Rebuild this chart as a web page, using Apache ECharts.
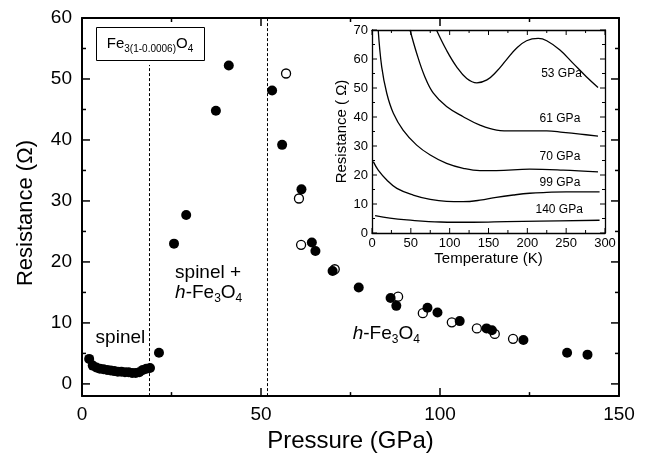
<!DOCTYPE html>
<html>
<head>
<meta charset="utf-8">
<script src="https://cdn.jsdelivr.net/npm/echarts@6/dist/echarts.min.js"></script>
<style>html,body{margin:0;padding:0;background:#fff}#c{width:648px;height:458px}</style>
</head>
<body>
<div id="c"></div>
<script>
// ---------- main plot data: Resistance (Ohm) vs Pressure (GPa) ----------
const spinelP = [2.0, 3.0, 4.0, 5.0, 6.0, 7.0, 8.0, 9.0, 10.0, 11.0, 12.0, 13.0, 14.0, 15.0, 16.0, 17.0, 18.0, 19.0];
const spinelR = [4.1, 3.0, 2.7, 2.5, 2.4, 2.3, 2.2, 2.1, 2.0, 2.0, 1.9, 1.9, 1.8, 1.8, 1.9, 2.3, 2.5, 2.6];
const filledP = [21.5, 25.7, 29.1, 37.4, 41.0, 53.1, 55.9, 61.3, 64.2, 65.2, 70.0, 77.3, 86.2, 87.8, 96.5, 99.3, 105.5, 113.0, 114.5, 123.3, 135.5, 141.2];
const filledR = [5.1, 23.0, 27.7, 44.8, 52.2, 48.1, 39.2, 31.9, 23.2, 21.8, 18.5, 15.8, 14.1, 12.8, 12.5, 11.7, 10.3, 9.1, 8.8, 7.2, 5.1, 4.8];
const openP = [57.0, 60.6, 61.2, 70.6, 88.3, 95.2, 103.3, 110.3, 115.3, 120.4];
const openR = [50.9, 30.4, 22.8, 18.8, 14.3, 11.6, 10.1, 9.1, 8.2, 7.4];
const phaseBoundaries = [18.8, 51.7];
const xTicksMain = [0, 50, 100, 150];
const xMinorMain = [25, 75, 125];
const yTicksMain = [0, 10, 20, 30, 40, 50, 60];
const yMinorMain = [5, 15, 25, 35, 45, 55];

// ---------- inset data: Resistance vs Temperature (K) ----------
const c53T = [83, 96, 109, 122, 135, 148, 160, 173, 186, 199, 214, 225, 242, 259, 276, 291];
const c53R = [70, 63, 57.3, 53.3, 51.8, 52.8, 55.6, 59.7, 63.7, 66.3, 67.1, 66.3, 63.1, 58.5, 53.9, 50.2];
const c61T = [49, 57.5, 68, 79, 96, 117.5, 139, 160.5, 182, 203, 225, 246, 268, 291];
const c61R = [70, 62, 53.9, 48.2, 43.6, 40.1, 37.2, 35.5, 35.2, 35.2, 35.2, 34.7, 34.1, 33.4];
const c70T = [8, 12.5, 19, 27.5, 40, 57.5, 75, 96, 117.5, 139, 160, 203, 246, 291];
const c70R = [70, 57.3, 48.2, 41.3, 35.5, 30.3, 26.9, 24, 22.3, 21.5, 21.5, 22.0, 21.7, 21.1];
const c99T = [1.7, 8, 19, 32, 53, 75, 96, 117, 139, 160, 182, 203, 225, 250, 293];
const c99R = [24.6, 21.7, 18.3, 15.4, 13.1, 11.6, 10.9, 10.8, 11.3, 12.3, 13.1, 13.7, 14.0, 14.2, 14.2];
const c140T = [4, 23, 45, 88, 130, 173, 216, 293];
const c140R = [6.0, 5.1, 4.5, 3.8, 3.7, 3.9, 4.1, 4.4];
const curveLabels = ['53 GPa', '61 GPa', '70 GPa', '99 GPa', '140 GPa'];
const curveLabelT = [244, 242, 242, 242, 241];
const curveLabelR = [54.8, 39.3, 26.3, 17.3, 7.9];
const xTicksInset = [0, 50, 100, 150, 200, 250, 300];
const xMinorInset = [25, 75, 125, 175, 225, 275];
const yTicksInset = [0, 10, 20, 30, 40, 50, 60, 70];
const yMinorInset = [5, 15, 25, 35, 45, 55, 65];

const FONT = '"Liberation Sans", Arial, Helvetica, sans-serif';
const zip = (a, b) => a.map((v, i) => [v, b[i]]);
const MAIN_X = [0, 150], MAIN_Y = [-2, 60], INS_X = [0, 300], INS_Y = [0, 70];
const W = 648, H = 458;
const GRID_MAIN = {left: 82, right: 29, top: 18, bottom: 55};
const GRID_INS = {left: 372, right: 43, top: 30, bottom: 225};

const chart = echarts.init(document.getElementById('c'), null, {renderer: 'canvas'});

function mainAxisCommon(extra) {
  return Object.assign({
    gridIndex: 0,
    axisLine: {show: true, onZero: false, lineStyle: {color: '#000', width: 2}},
    axisTick: {show: false},
    minorTick: {show: false},
    splitLine: {show: false},
    minorSplitLine: {show: false}
  }, extra);
}
function insetAxisCommon(extra) {
  return Object.assign({
    gridIndex: 1,
    axisLine: {show: true, onZero: false, lineStyle: {color: '#000', width: 1.3}},
    axisTick: {show: false},
    minorTick: {show: false},
    splitLine: {show: false},
    minorSplitLine: {show: false}
  }, extra);
}

const subRich = {
  n: {fontSize: 19, fontFamily: FONT, color: '#000'},
  i: {fontSize: 19, fontFamily: FONT, fontStyle: 'italic', color: '#000'},
  s: {fontSize: 12, fontFamily: FONT, color: '#000', padding: [12, 0, 0, 0]}
};

const legendGraphics = [
  {id: 'legendBox', type: 'rect', shape: {x: 96.5, y: 27.5, width: 108, height: 33}, style: {fill: '#fff', stroke: '#000', lineWidth: 1}, z: 50},
  {id: 'legendText', type: 'text', x: 150, y: 44, z: 51, style: {
    text: '{b|Fe}{s|3(1-0.0006)}{b|O}{s|4}', align: 'center', verticalAlign: 'middle',
    rich: {
      b: {fontSize: 15, fontFamily: FONT, fill: '#000'},
      s: {fontSize: 10, fontFamily: FONT, fill: '#000', padding: [10, 0, 0, 0]}
    }
  }}
];

const option = {
  backgroundColor: '#fff',
  animation: false,
  grid: [
    Object.assign({}, GRID_MAIN),
    Object.assign({show: true, backgroundColor: '#fff', borderWidth: 0}, GRID_INS)
  ],
  xAxis: [
    mainAxisCommon({
      type: 'value', position: 'bottom', min: MAIN_X[0], max: MAIN_X[1], interval: 50,
      name: 'Pressure (GPa)', nameLocation: 'middle', nameGap: 27,
      nameTextStyle: {fontSize: 24, fontFamily: FONT, color: '#000'},
      axisLabel: {show: true, fontSize: 19, fontFamily: FONT, color: '#000', margin: 9,
        formatter: v => xTicksMain.includes(v) ? String(v) : ''}
    }),
    mainAxisCommon({type: 'value', position: 'top', min: MAIN_X[0], max: MAIN_X[1], interval: 50, axisLabel: {show: false}}),
    insetAxisCommon({
      type: 'value', position: 'bottom', min: INS_X[0], max: INS_X[1], interval: 50,
      name: 'Temperature (K)', nameLocation: 'middle', nameGap: 18,
      nameTextStyle: {fontSize: 15, fontFamily: FONT, color: '#000'},
      axisLabel: {show: true, fontSize: 13, fontFamily: FONT, color: '#000', margin: 4}
    }),
    insetAxisCommon({type: 'value', position: 'top', min: INS_X[0], max: INS_X[1], interval: 50, axisLabel: {show: false}})
  ],
  yAxis: [
    mainAxisCommon({
      type: 'value', position: 'left', min: MAIN_Y[0], max: MAIN_Y[1], splitNumber: 6,
      name: 'Resistance (Ω)', nameLocation: 'middle', nameGap: 45,
      nameTextStyle: {fontSize: 22, fontFamily: FONT, color: '#000', padding: [0, 0, 0, -12]},
      axisLabel: {show: true, fontSize: 19, fontFamily: FONT, color: '#000', margin: 10, showMinLabel: false,
        formatter: v => yTicksMain.includes(v) ? String(v) : ''}
    }),
    mainAxisCommon({type: 'value', position: 'right', min: MAIN_Y[0], max: MAIN_Y[1], splitNumber: 6, axisLabel: {show: false}}),
    insetAxisCommon({
      type: 'value', position: 'left', min: INS_Y[0], max: INS_Y[1], interval: 10,
      name: 'Resistance ( Ω)', nameLocation: 'middle', nameGap: 22,
      nameTextStyle: {fontSize: 15, fontFamily: FONT, color: '#000'},
      axisLabel: {show: true, fontSize: 13, fontFamily: FONT, color: '#000', margin: 4}
    }),
    insetAxisCommon({type: 'value', position: 'right', min: INS_Y[0], max: INS_Y[1], interval: 10, axisLabel: {show: false}})
  ],
  graphic: legendGraphics,
  series: [
    {
      name: 'boundaries', type: 'line', xAxisIndex: 0, yAxisIndex: 0, data: [], silent: true,
      markLine: {
        silent: true, symbol: 'none', animation: false,
        label: {show: false},
        lineStyle: {color: '#000', width: 1, type: [3, 2], opacity: 1},
        data: [
          [{coord: [phaseBoundaries[0], -2]}, {coord: [phaseBoundaries[0], 52.3]}],
          [{coord: [phaseBoundaries[1], -2]}, {coord: [phaseBoundaries[1], 60]}]
        ]
      }
    },
    {
      name: 'open', type: 'scatter', xAxisIndex: 0, yAxisIndex: 0, symbol: 'circle', symbolSize: 9,
      itemStyle: {color: '#fff', borderColor: '#000', borderWidth: 1.3, opacity: 1},
      data: zip(openP, openR), z: 3
    },
    {
      name: 'filled', type: 'scatter', xAxisIndex: 0, yAxisIndex: 0, symbol: 'circle', symbolSize: 10,
      itemStyle: {color: '#000', opacity: 1}, data: zip(filledP, filledR), z: 4
    },
    {
      name: 'spinel', type: 'scatter', xAxisIndex: 0, yAxisIndex: 0, symbol: 'circle', symbolSize: 10,
      itemStyle: {color: '#000', opacity: 1}, data: zip(spinelP, spinelR), z: 4
    },
    {
      name: 'annotations', type: 'scatter', xAxisIndex: 0, yAxisIndex: 0, symbolSize: 0, silent: true, z: 5,
      itemStyle: {opacity: 1},
      label: {show: true, position: 'right', distance: 0, color: '#000', fontFamily: FONT, fontSize: 19,
        formatter: p => p.data[2], rich: subRich},
      data: [
        [3.8, 7.6, '{n|spinel}'],
        [26.0, 18.2, '{n|spinel +}'],
        [26.0, 15.0, '{i|h}{n|-Fe}{s|3}{n|O}{s|4}'],
        [75.6, 8.2, '{i|h}{n|-Fe}{s|3}{n|O}{s|4}']
      ]
    },
    ...[[c53T, c53R], [c61T, c61R], [c70T, c70R], [c99T, c99R], [c140T, c140R]].map((c, k) => ({
      name: 'curve' + k, type: 'line', xAxisIndex: 2, yAxisIndex: 2, smooth: 0.4, showSymbol: false,
      symbol: 'none', clip: true, lineStyle: {color: '#000', width: 1.3}, data: zip(c[0], c[1]), z: 20
    })),
    {
      name: 'curveLabels', type: 'scatter', xAxisIndex: 2, yAxisIndex: 2, symbolSize: 0, silent: true, z: 21,
      itemStyle: {opacity: 1},
      label: {show: true, position: 'inside', color: '#000', fontFamily: FONT, fontSize: 12,
        formatter: p => p.data[2]},
      data: curveLabels.map((t, i) => [curveLabelT[i], curveLabelR[i], t])
    }
  ]
};

try { chart.setOption(option); } catch (e) { /* keep going: ticks are added below */ }

// ---- inward tick marks on all four frame sides ----
// pixel positions come from the axes' own scales (convertToPixel), with the grid layout as a fallback
function toPx(kind, idx, v, range, grid) {
  let p = NaN;
  try {
    const f = {};
    f[kind === 'x' ? 'xAxisIndex' : 'yAxisIndex'] = idx;
    p = chart.convertToPixel(f, v);
    if (Array.isArray(p)) p = kind === 'x' ? p[0] : p[1];
  } catch (e) { p = NaN; }
  if (typeof p !== 'number' || !isFinite(p)) {
    const t = (v - range[0]) / (range[1] - range[0]);
    const gw = W - grid.left - grid.right, gh = H - grid.top - grid.bottom;
    p = kind === 'x' ? grid.left + t * gw : grid.top + gh - t * gh;
  }
  return p;
}
function tickGraphics(prefix, xi, yi, xr, yr, grid, xMaj, xMin, yMaj, yMin, majPx, minPx, w) {
  const left = toPx('x', xi, xr[0], xr, grid), right = toPx('x', xi, xr[1], xr, grid);
  const bottom = toPx('y', yi, yr[0], yr, grid), top = toPx('y', yi, yr[1], yr, grid);
  const out = [];
  const style = {stroke: '#000', lineWidth: w};
  let n = 0;
  const seg = (x1, y1, x2, y2) => out.push({id: prefix + (n++), type: 'line', z: 60, silent: true,
    shape: {x1: x1, y1: y1, x2: x2, y2: y2}, style: style});
  const addX = (v, L) => {
    const x = toPx('x', xi, v, xr, grid);
    seg(x, bottom, x, bottom - L);
    seg(x, top, x, top + L);
  };
  const addY = (v, L) => {
    const y = toPx('y', yi, v, yr, grid);
    seg(left, y, left + L, y);
    seg(right, y, right - L, y);
  };
  xMaj.forEach(v => addX(v, majPx)); xMin.forEach(v => addX(v, minPx));
  yMaj.forEach(v => addY(v, majPx)); yMin.forEach(v => addY(v, minPx));
  return out;
}
const ticks = [].concat(
  tickGraphics('tm', 0, 0, MAIN_X, MAIN_Y, GRID_MAIN, xTicksMain, xMinorMain, yTicksMain, yMinorMain, 8, 4, 1.5),
  tickGraphics('ti', 2, 2, INS_X, INS_Y, GRID_INS, xTicksInset, xMinorInset, yTicksInset, yMinorInset, 5, 3, 1)
);
try {
  chart.setOption({graphic: legendGraphics.concat(ticks)});
} catch (e) { /* ignore */ }
</script>
</body>
</html>
